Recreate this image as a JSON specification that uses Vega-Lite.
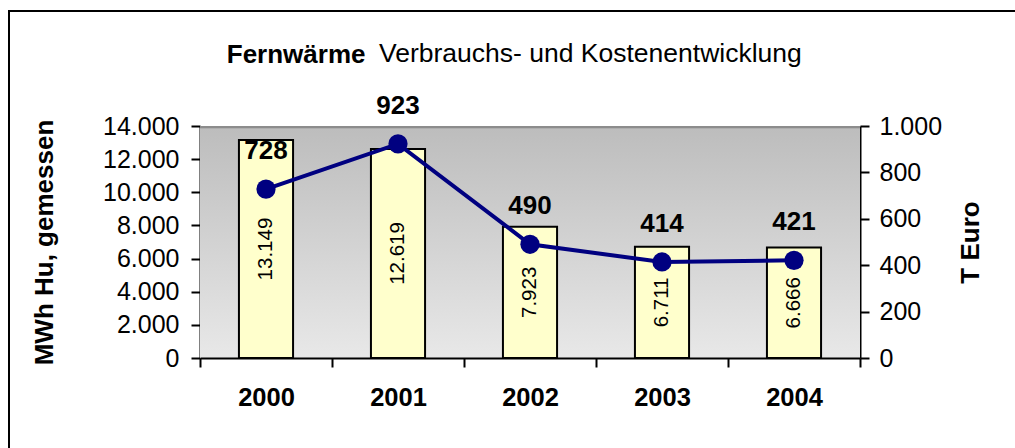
{
  "$schema": "https://vega.github.io/schema/vega-lite/v6.json",
  "width": 1011,
  "height": 442,
  "autosize": {"type": "none"},
  "padding": {"left": 9, "top": 11, "right": -5, "bottom": -5},
  "title": {
    "text": "Verbrauchs- und Kostenentwicklung",
    "anchor": "start",
    "frame": "group",
    "dx": 370,
    "dy": 77,
    "offset": 0,
    "baseline": "alphabetic",
    "fontSize": 26.5,
    "fontWeight": "normal",
    "font": "Liberation Sans",
    "color": "#000"
  },
  "data": {
    "values": [
      {"year": "2000", "mwh": 13149, "teuro": 728},
      {"year": "2001", "mwh": 12619, "teuro": 923},
      {"year": "2002", "mwh": 7923, "teuro": 490},
      {"year": "2003", "mwh": 6711, "teuro": 414},
      {"year": "2004", "mwh": 6666, "teuro": 421}
    ]
  },
  "layer": [
    {
      "encoding": {
        "x": {
          "field": "year", "type": "nominal", "sort": null,
          "scale": {"range": [191, 851], "paddingInner": 0, "paddingOuter": 0},
          "axis": {
            "orient": "bottom", "offset": -95, "title": null, "labelAngle": 0,
            "labelFontSize": 25.5, "labelFontWeight": "bold", "labelPadding": 18,
            "tickBand": "extent", "tickSize": 9
          }
        }
      },
      "layer": [
        {
          "mark": {
            "type": "rect",
            "strokeWidth": 0,
            "fill": {
              "gradient": "linear", "x1": 0, "y1": 0, "x2": 0, "y2": 1,
              "stops": [
                {"offset": 0, "color": "#8c8c8c"},
                {"offset": 0.008, "color": "#8c8c8c"},
                {"offset": 0.012, "color": "#bdbdbd"},
                {"offset": 1, "color": "#e8e8e8"}
              ]
            }
          },
          "encoding": {
            "y": {
              "datum": 0, "type": "quantitative",
              "scale": {"domain": [0, 14000], "range": [347, 115], "nice": false},
              "axis": {
                "orient": "left", "offset": -191,
                "values": [0, 2000, 4000, 6000, 8000, 10000, 12000, 14000],
                "format": ",d", "labelFontSize": 25, "labelPadding": 12,
                "title": "MWh Hu, gemessen", "titleFontSize": 26, "titleFontWeight": "bold",
                "titlePadding": 45
              }
            },
            "y2": {"datum": 14000}
          }
        },
        {
          "mark": {"type": "bar", "width": {"band": 0.41}, "fill": "#FFFFCC", "stroke": "#000", "strokeWidth": 2},
          "encoding": {
            "y": {
              "field": "mwh", "type": "quantitative",
              "scale": {"domain": [0, 14000], "range": [347, 115], "nice": false},
              "axis": {
                "orient": "left", "offset": -191,
                "values": [0, 2000, 4000, 6000, 8000, 10000, 12000, 14000],
                "format": ",d", "labelFontSize": 25, "labelPadding": 12,
                "title": "MWh Hu, gemessen", "titleFontSize": 26, "titleFontWeight": "bold",
                "titlePadding": 45
              }
            }
          }
        }
      ]
    },
    {
      "mark": {"type": "text", "angle": 270, "fontSize": 20.5, "baseline": "middle", "align": "center", "color": "#000"},
      "encoding": {
        "x": {"field": "year", "type": "nominal", "sort": null, "scale": {"range": [191, 851], "paddingInner": 0, "paddingOuter": 0}, "axis": null},
        "y": {"field": "mwh", "type": "quantitative", "scale": {"domain": [0, 28000], "range": [347, 115], "nice": false}, "axis": null},
        "text": {"field": "mwh", "type": "quantitative", "format": ",d"}
      }
    },
    {
      "encoding": {
        "x": {
          "field": "year", "type": "nominal", "sort": null,
          "scale": {"range": [191, 851], "paddingInner": 0, "paddingOuter": 0},
          "axis": {
            "orient": "top", "offset": 0, "labels": false, "ticks": false, "domain": false,
            "title": "Fernwärme", "titleFontSize": 26, "titleFontWeight": "bold",
            "titleX": 356, "titleY": 51, "titleAlign": "right", "titleBaseline": "alphabetic", "titleAngle": 0
          }
        },
        "y": {
          "field": "teuro", "type": "quantitative",
          "scale": {"domain": [0, 1000], "range": [347, 115], "nice": false},
          "axis": {
            "orient": "right", "offset": -160,
            "values": [0, 200, 400, 600, 800, 1000],
            "format": ",d", "labelFontSize": 25, "labelPadding": 10,
            "title": "T Euro", "titleFontSize": 26, "titleFontWeight": "bold",
            "titleAngle": 270, "titleBaseline": "top", "titlePadding": 16
          }
        }
      },
      "layer": [
        {"mark": {"type": "line", "color": "#000080", "strokeWidth": 4}},
        {"mark": {"type": "circle", "size": 370, "color": "#000080", "opacity": 1}},
        {
          "mark": {"type": "text", "fontSize": 26, "fontWeight": "bold", "dy": -30, "baseline": "alphabetic", "color": "#000"},
          "encoding": {"text": {"field": "teuro", "type": "quantitative", "format": ",d"}}
        }
      ]
    }
  ],
  "resolve": {
    "scale": {"y": "independent"},
    "axis": {"x": "independent", "y": "independent"}
  },
  "config": {
    "font": "Liberation Sans",
    "locale": {"number": {"decimal": ",", "thousands": ".", "grouping": [3], "currency": ["", " €"]}},
    "view": {"stroke": "#000", "strokeWidth": 2},
    "axis": {
      "domainColor": "#000", "domainWidth": 2, "tickColor": "#000", "tickWidth": 2, "tickSize": 9,
      "labelColor": "#000", "titleColor": "#000", "grid": false,
      "labelFont": "Liberation Sans", "titleFont": "Liberation Sans"
    }
  }
}
